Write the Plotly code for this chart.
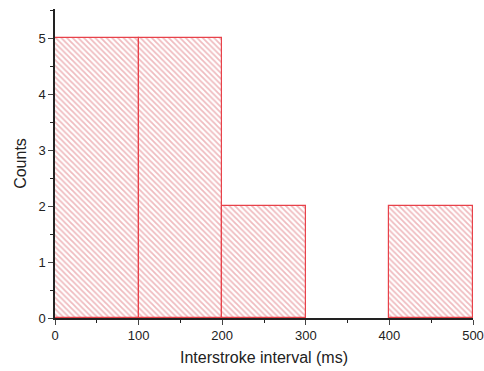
import plotly.graph_objects as go

bin_centers = [50, 150, 250, 350, 450]
counts = [5, 5, 2, 0, 2]
x_ticks = [0, 100, 200, 300, 400, 500]
y_ticks = [0, 1, 2, 3, 4, 5]

line_widths = [1.2 if c > 0 else 0 for c in counts]

fig = go.Figure(go.Bar(
    x=bin_centers, y=counts, width=100,
    marker=dict(color="white",
                line=dict(color="#e8424a", width=line_widths),
                pattern=dict(shape="\\", fgcolor="#e07880", bgcolor="white", size=4, solidity=0.45)),
))
fig.update_layout(
    width=484, height=371,
    margin=dict(l=55, r=11, t=9, b=53),
    plot_bgcolor="white", paper_bgcolor="white",
    font=dict(family="Liberation Sans, Arial, sans-serif", color="#222"),
    showlegend=False, bargap=0,
)
fig.update_xaxes(range=[0, 500], tickvals=x_ticks, ticks="outside", ticklen=5, tickwidth=1.2,
                 showline=True, linecolor="#222", linewidth=1.5, showgrid=False, zeroline=False,
                 automargin=False,
                 minor=dict(dtick=50, ticks="outside", ticklen=3, tickcolor="#222", showgrid=False),
                 title=dict(text="Interstroke interval (ms)", font=dict(size=16), standoff=9),
                 tickfont=dict(size=13))
fig.update_yaxes(range=[0, 5.52], tickvals=y_ticks, ticks="outside", ticklen=5, tickwidth=1.2,
                 showline=True, linecolor="#222", linewidth=1.5, showgrid=False, zeroline=False,
                 automargin=False,
                 minor=dict(dtick=0.5, ticks="outside", ticklen=3, tickcolor="#222", showgrid=False),
                 title=dict(text="Counts", font=dict(size=16), standoff=8),
                 tickfont=dict(size=13))
fig.write_html("out.html", config={"displayModeBar": False},
               post_script="document.body.style.margin='0';document.body.style.overflow='hidden';")
